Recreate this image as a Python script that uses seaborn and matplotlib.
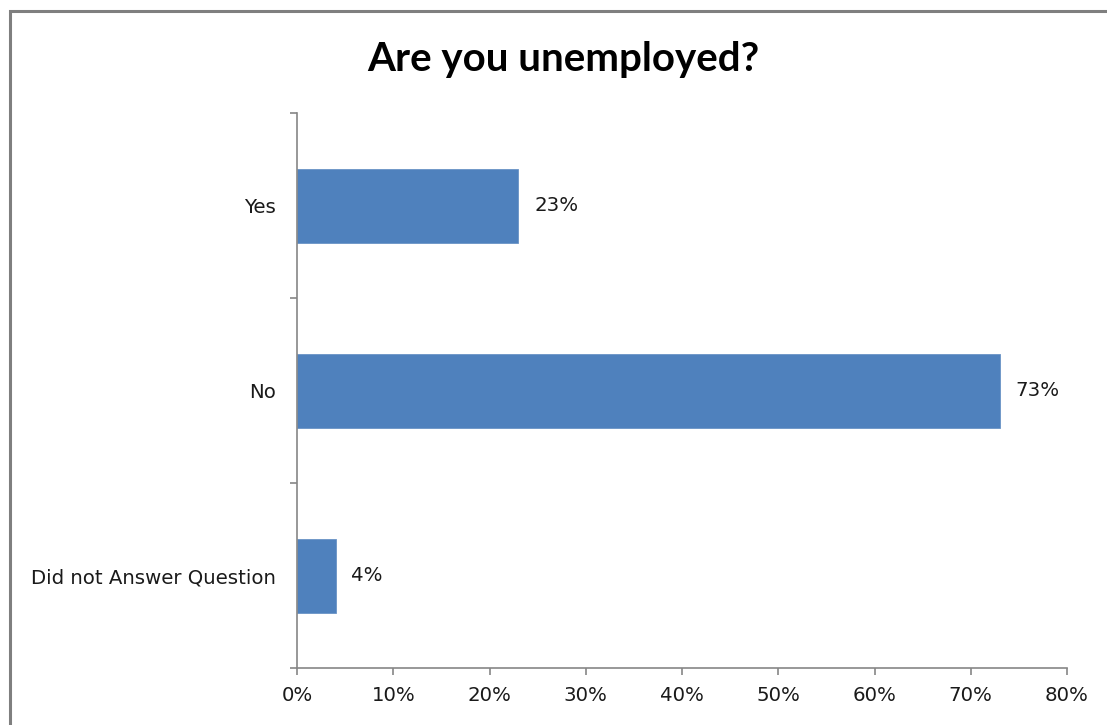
import matplotlib
matplotlib.use("Agg")
import matplotlib.pyplot as plt
import matplotlib.patches as mpatches
import seaborn as sns
import pandas as pd

categories = ["Yes", "No", "Did not Answer Question"]
shares = [23, 73, 4]
value_labels = ["23%", "73%", "4%"]
x_ticks = [0, 10, 20, 30, 40, 50, 60, 70, 80]
x_tick_labels = ["0%", "10%", "20%", "30%", "40%", "50%", "60%", "70%", "80%"]
title = "Are you unemployed?"

sns.set_theme(style="white")
plt.rcParams["font.family"] = ["DejaVu Sans"]

df = pd.DataFrame({"answer": categories, "share": shares})

fig = plt.figure(figsize=(11.07, 7.25), dpi=100)
fig.patch.set_facecolor("white")

# chart-area frame (left and top edges visible)
frame = mpatches.Rectangle((10 / 1107, -0.2), 1.2, 1 - 11 / 725 + 0.2,
                           transform=fig.transFigure, fill=False,
                           edgecolor="#7f7f7f", linewidth=2.2, zorder=0)
fig.patches.append(frame)

ax = fig.add_axes([297 / 1107, 1 - 668 / 725, 770 / 1107, (668 - 113) / 725])
ax.set_facecolor("white")

sns.barplot(data=df, x="share", y="answer", order=categories, orient="h",
            color="#4f81bd", width=0.4, saturation=1, ax=ax,
            edgecolor="#6a93c6", linewidth=0.6)

ax.set_xlim(0, 80)
ax.set_ylim(2.5, -0.5)
ax.set_xlabel("")
ax.set_ylabel("")

label_font = dict(fontsize=14.2, color="#1a1a1a")

for i, (v, lab) in enumerate(zip(shares, value_labels)):
    ax.annotate(lab, xy=(v, i), xytext=(16, 0), textcoords="offset pixels",
                ha="left", va="center", **label_font)

ax.set_xticks(x_ticks)
ax.set_xticklabels(x_tick_labels, **label_font)
ax.set_yticks(range(len(categories)))
ax.set_yticklabels(categories, **label_font)
ax.set_yticks([-0.5, 0.5, 1.5, 2.5], minor=True)

axis_grey = "#868686"
ax.tick_params(axis="x", which="major", direction="out", length=5, width=1.2,
               color=axis_grey, pad=8, bottom=True)
ax.tick_params(axis="y", which="major", length=0, pad=15, left=True)
ax.tick_params(axis="y", which="minor", direction="out", length=5, width=1.2,
               color=axis_grey, left=True)

for side in ["top", "right"]:
    ax.spines[side].set_visible(False)
for side in ["left", "bottom"]:
    ax.spines[side].set_color(axis_grey)
    ax.spines[side].set_linewidth(1.2)

fig.text(563 / 1107, 1 - 71 / 725, title, ha="center", va="baseline",
         fontsize=29, fontweight="bold", color="black",
         family=["Lato", "DejaVu Sans"])

fig.savefig("out.png", dpi=100, facecolor="white")
